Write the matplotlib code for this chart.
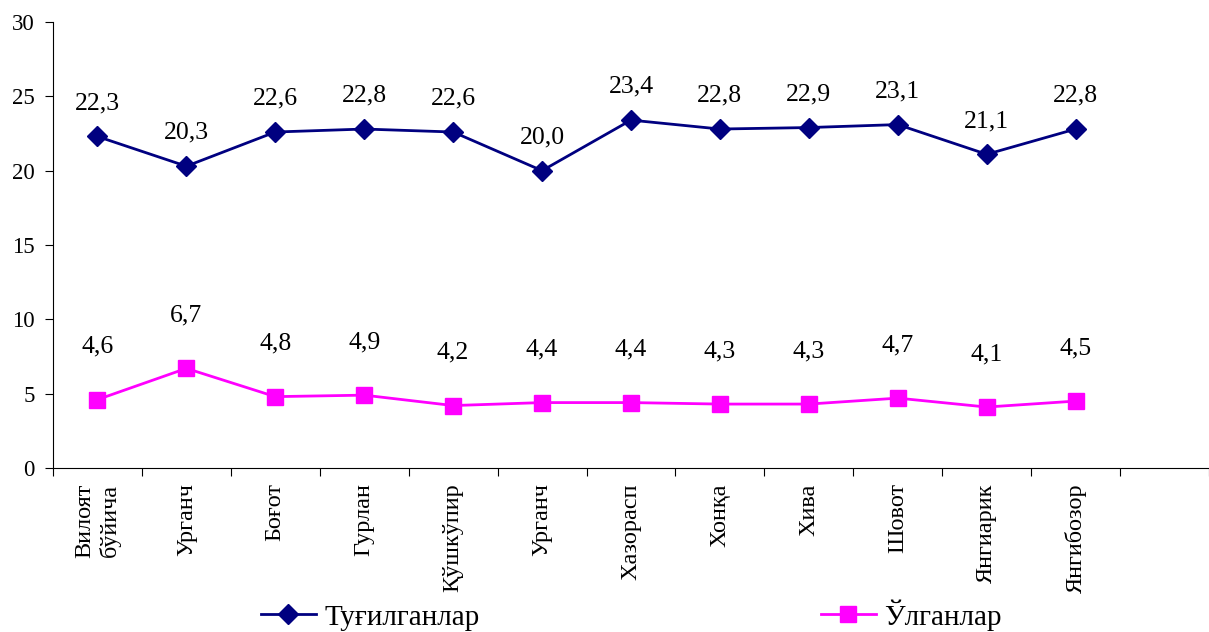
import numpy as np
import matplotlib.pyplot as plt

plt.rcParams['font.family'] = ['Liberation Serif', 'DejaVu Serif']

# Туғилганлар ва ўлганлар (1000 аҳолига)
tumanlar = ['Вилоят\nбўйича', 'Урганч', 'Боғот', 'Гурлан', 'Қўшкўпир', 'Урганч',
            'Хазорасп', 'Хонқа', 'Хива', 'Шовот', 'Янгиарик', 'Янгибозор']
tugilganlar = [22.3, 20.3, 22.6, 22.8, 22.6, 20.0, 23.4, 22.8, 22.9, 23.1, 21.1, 22.8]
olganlar = [4.6, 6.7, 4.8, 4.9, 4.2, 4.4, 4.4, 4.3, 4.3, 4.7, 4.1, 4.5]

fig = plt.figure(figsize=(12.09, 6.32), dpi=100)
ax = fig.add_axes([0.0438, 0.2595, 0.9562, 0.7057])

x = np.arange(len(tumanlar))
l1, = ax.plot(x, tugilganlar, color='#000080', lw=2, marker='D', ms=10,
              label='Туғилганлар')
l2, = ax.plot(x, olganlar, color='#FF00FF', lw=2, marker='s', ms=11.5,
              label='Ўлганлар')

for xi, v in zip(x, tugilganlar):
    ax.annotate(f'{v:.1f}'.replace('.', ','), (xi, v), xytext=(0, 24),
                textcoords='offset points', ha='center', va='center', fontsize=18.5)
for xi, v in zip(x, olganlar):
    ax.annotate(f'{v:.1f}'.replace('.', ','), (xi, v), xytext=(0, 38),
                textcoords='offset points', ha='center', va='center', fontsize=18.5)

ax.set_ylim(0, 30)
ax.set_yticks(range(0, 31, 5))
ax.set_xlim(-0.5, 12.44)
ax.set_xticks(np.arange(-0.5, 13, 1))
ax.set_xticklabels([])
ax.set_xticks(x, minor=True)
ax.set_xticklabels(tumanlar, minor=True, rotation=90, va='top', ha='center', fontsize=17.5)
ax.tick_params(axis='x', which='minor', length=0, pad=11)
ax.tick_params(axis='x', which='major', length=6, direction='out')
ax.tick_params(axis='y', length=6, direction='out', labelsize=16.5, pad=7)

ax.spines['top'].set_visible(False)
ax.spines['right'].set_visible(False)

fig.legend(handles=[l1, l2], loc='center', bbox_to_anchor=(0.522, 0.027), ncol=2,
           frameon=False, fontsize=21, handlelength=1.9, handletextpad=0.28,
           columnspacing=11.7)

fig.savefig('out.png', dpi=100)
